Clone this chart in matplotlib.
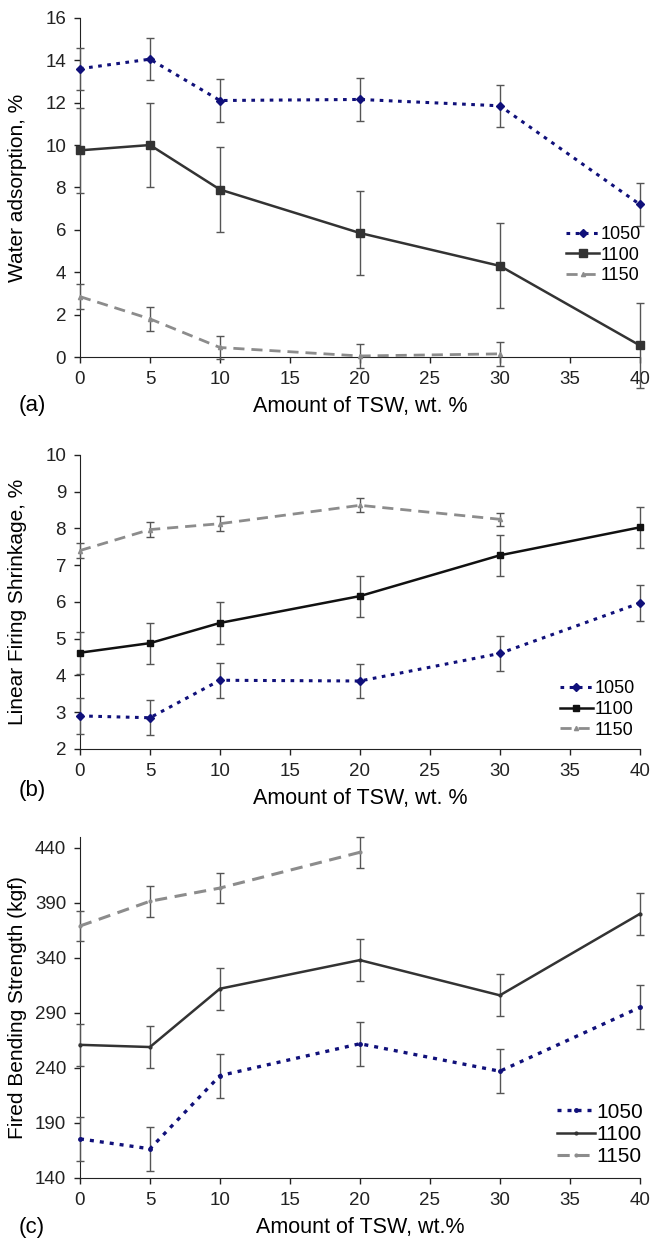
import matplotlib
matplotlib.use("Agg")
import matplotlib.pyplot as plt

# --- dados ---
x_all = [0, 5, 10, 20, 30, 40]
x_1150 = [0, 5, 10, 20, 30]
x_1150c = [0, 5, 10, 20]
series_names = ["1050", "1100", "1150"]

# (a) absorção de água
wa_1050 = [13.6, 14.05, 12.1, 12.15, 11.85, 7.2]
wa_1050_err = [1.0, 1.0, 1.0, 1.0, 1.0, 1.0]
wa_1100 = [9.75, 10.0, 7.9, 5.85, 4.3, 0.55]
wa_1100_err = [2.0, 2.0, 2.0, 2.0, 2.0, 2.0]
wa_1150 = [2.85, 1.8, 0.45, 0.05, 0.15]
wa_1150_err = [0.6, 0.55, 0.55, 0.55, 0.55]

# (b) retração linear
ls_1050 = [2.9, 2.85, 3.87, 3.85, 4.6, 5.97]
ls_1050_err = [0.48, 0.48, 0.48, 0.47, 0.48, 0.48]
ls_1100 = [4.62, 4.88, 5.43, 6.16, 7.27, 8.03]
ls_1100_err = [0.57, 0.56, 0.56, 0.56, 0.56, 0.55]
ls_1150 = [7.4, 7.97, 8.13, 8.63, 8.25]
ls_1150_err = [0.2, 0.2, 0.2, 0.19, 0.18]

# (c) resistência à flexão
bs_1050 = [175.5, 166.5, 233, 262, 237, 295]
bs_1050_err = [20, 20, 20, 20, 20, 20]
bs_1100 = [261, 259, 312, 338, 306, 380]
bs_1100_err = [19, 19, 19, 19, 19, 19]
bs_1150 = [369, 391.5, 403.5, 436]
bs_1150_err = [14, 14, 14, 14]

plt.rcParams["font.family"] = ["Liberation Sans", "DejaVu Sans"]
plt.rcParams["font.size"] = 12

fig = plt.figure(figsize=(6.54, 12.38), dpi=100)

blue = "#10107a"
dark = "#333333"
grey = "#8c8c8c"
errc = "#555555"


def estilo(ax, ylim, yticks, ylabel, letra, xlabel="Amount of TSW, wt. %"):
    ax.set_xlim(0, 40)
    ax.set_ylim(*ylim)
    ax.set_xticks(range(0, 41, 5))
    ax.set_yticks(yticks)
    ax.spines["top"].set_visible(False)
    ax.spines["right"].set_visible(False)
    ax.spines["left"].set_color("#222222")
    ax.spines["bottom"].set_color("#222222")
    ax.tick_params(direction="out", length=4, width=1, labelsize=13.5,
                   colors="#222222", pad=6)
    ax.set_ylabel(ylabel, fontsize=15)
    ax.yaxis.set_label_coords(-0.095, 0.5)
    ax.set_xlabel(xlabel, fontsize=15.5, labelpad=6)
    ax.text(-0.11, -0.16, letra, transform=ax.transAxes, fontsize=16)


def serie(ax, x, y, e, cor, ls, mk, ms, lw, dashes=None):
    linha, caps, barras = ax.errorbar(x, y, yerr=e, color=cor, ecolor=errc,
                                      elinewidth=1, capsize=3, capthick=1,
                                      linestyle=ls, marker=mk, markersize=ms,
                                      linewidth=lw, clip_on=False, zorder=3)
    if dashes is not None:
        linha.set_dashes(dashes)
    for c in caps:
        c.set_clip_on(False)
    for b in barras:
        b.set_clip_on(False)
    return linha


# --- painel (a) ---
ax1 = fig.add_axes([0.1223, 0.7116, 0.856, 0.274])
l1 = serie(ax1, x_all, wa_1050, wa_1050_err, blue, ":", "D", 4, 2.2, (1.2, 1.8))
l2 = serie(ax1, x_all, wa_1100, wa_1100_err, dark, "-", "s", 6, 1.8)
l3 = serie(ax1, x_1150, wa_1150, wa_1150_err, grey, "--", "^", 3, 2, (4, 2.5))
estilo(ax1, (0, 16), range(0, 17, 2), "Water adsorption, %", "(a)")
ax1.legend([l1, l2, l3], series_names, loc="center left",
           bbox_to_anchor=(0.84, 0.3), frameon=False, fontsize=13,
           handlelength=1.8, handletextpad=0.1, labelspacing=0.2)

# --- painel (b) ---
ax2 = fig.add_axes([0.1223, 0.395, 0.856, 0.2375])
m1 = serie(ax2, x_all, ls_1050, ls_1050_err, blue, ":", "D", 4, 2.2, (1.2, 1.8))
m2 = serie(ax2, x_all, ls_1100, ls_1100_err, "#111111", "-", "s", 4.5, 1.8)
m3 = serie(ax2, x_1150, ls_1150, ls_1150_err, grey, "--", "^", 3, 2, (4, 2.5))
estilo(ax2, (2, 10), range(2, 11), "Linear Firing Shrinkage, %", "(b)")
ax2.legend([m1, m2, m3], series_names, loc="lower right",
           bbox_to_anchor=(1.02, -0.02), frameon=False, fontsize=13,
           handlelength=1.8, handletextpad=0.1, labelspacing=0.2)

# --- painel (c) ---
ax3 = fig.add_axes([0.1223, 0.0485, 0.856, 0.2755])
n1 = serie(ax3, x_all, bs_1050, bs_1050_err, blue, ":", "o", 2.5, 2.4, (1.2, 1.8))
n2 = serie(ax3, x_all, bs_1100, bs_1100_err, dark, "-", "o", 2, 1.8)
n3 = serie(ax3, x_1150c, bs_1150, bs_1150_err, grey, "--", "o", 2, 2.2, (4, 2.5))
estilo(ax3, (140, 450), range(140, 441, 50), "Fired Bending Strength (kgf)", "(c)",
       xlabel="Amount of TSW, wt.%")
ax3.legend([n1, n2, n3], series_names, loc="lower right",
           bbox_to_anchor=(1.04, -0.02), frameon=False, fontsize=15,
           handlelength=1.8, handletextpad=0.1, labelspacing=0.15)

fig.savefig("out.png", dpi=100)
